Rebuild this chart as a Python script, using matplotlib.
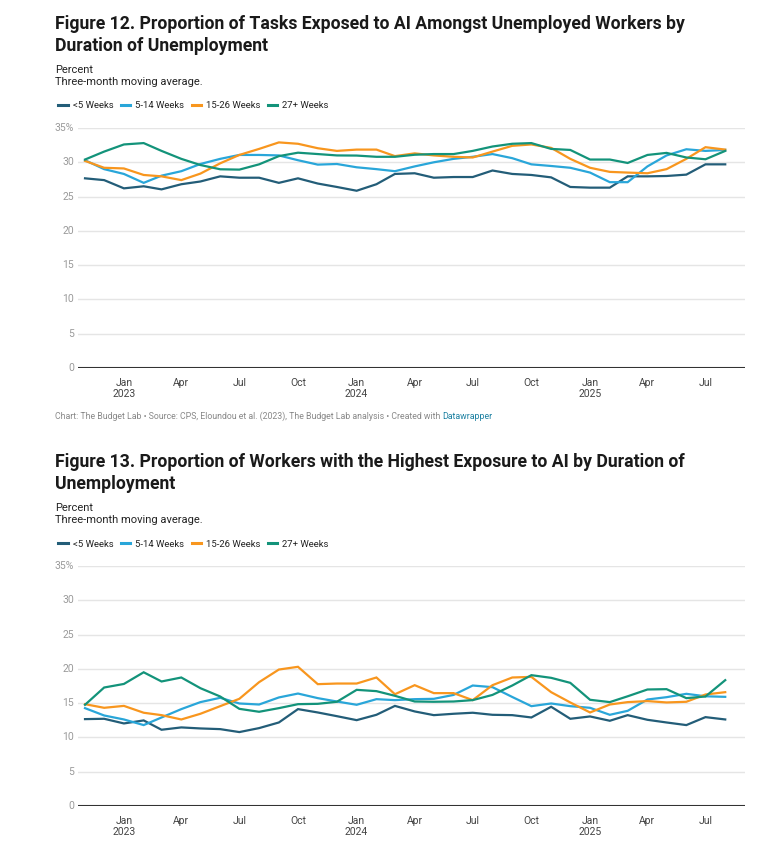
import numpy as np
import pandas as pd
import matplotlib
matplotlib.use("Agg")
import matplotlib.pyplot as plt
import matplotlib.dates as mdates

plt.rcParams['font.family'] = ['Roboto', 'DejaVu Sans']

# Data (monthly, three-month moving average)
months = pd.date_range('2022-11-01', periods=34, freq='MS')
series_names = ['<5 Weeks', '5-14 Weeks', '15-26 Weeks', '27+ Weeks']
colors = ['#235d78', '#29a6d9', '#f8961e', '#13937a']

# Figure 12: proportion of tasks exposed to AI
tasks_lt5 = [27.66, 27.4, 26.2, 26.5, 26.05, 26.8, 27.2, 27.95, 27.75, 27.75, 27.0, 27.66,
             26.9, 26.4, 25.85, 26.8, 28.3, 28.4, 27.75, 27.85, 27.85, 28.8, 28.3, 28.15,
             27.8, 26.4, 26.3, 26.3, 27.95, 27.95, 28.0, 28.2, 29.7, 29.7]
tasks_5_14 = [30.3, 29.0, 28.3, 27.0, 28.05, 28.7, 29.75, 30.5, 31.07, 31.07, 31.0, 30.3,
              29.66, 29.75, 29.27, 29.0, 28.7, 29.4, 30.0, 30.5, 30.8, 31.2, 30.6, 29.7,
              29.46, 29.2, 28.5, 27.1, 27.1, 29.4, 31.0, 31.9, 31.66, 31.8]
tasks_15_26 = [30.2, 29.2, 29.1, 28.15, 27.95, 27.4, 28.35, 29.85, 31.07, 31.95, 32.9, 32.7,
               32.05, 31.66, 31.85, 31.85, 30.9, 31.3, 31.0, 30.8, 30.7, 31.56, 32.4, 32.6,
               32.1, 30.5, 29.2, 28.6, 28.5, 28.4, 29.0, 30.5, 32.2, 31.85]
tasks_27p = [30.4, 31.56, 32.6, 32.8, 31.66, 30.5, 29.6, 28.98, 28.93, 29.7, 30.9, 31.4,
             31.2, 31.0, 30.98, 30.8, 30.8, 31.1, 31.2, 31.2, 31.66, 32.3, 32.7, 32.8,
             31.95, 31.8, 30.4, 30.4, 29.9, 31.07, 31.37, 30.7, 30.44, 31.66]

# Figure 13: proportion of workers with highest exposure
high_lt5 = [12.67, 12.72, 12.04, 12.48, 11.12, 11.46, 11.31, 11.21, 10.78, 11.36, 12.18, 14.13,
            13.64, 13.1, 12.52, 13.3, 14.6, 13.79, 13.25, 13.45, 13.6, 13.3, 13.25, 12.91,
            14.47, 12.72, 13.06, 12.43, 13.25, 12.57, 12.18, 11.8, 12.96, 12.62]
high_5_14 = [14.27, 13.2, 12.62, 11.8, 12.91, 14.13, 15.15, 15.78, 14.95, 14.8, 15.83, 16.4,
             15.73, 15.24, 14.76, 15.58, 15.44, 15.58, 15.63, 16.2, 17.57, 17.33, 15.9, 14.56,
             14.95, 14.56, 14.32, 13.3, 13.88, 15.53, 15.87, 16.36, 16.0, 15.92]
high_15_26 = [14.85, 14.32, 14.6, 13.6, 13.25, 12.62, 13.45, 14.56, 15.63, 18.06, 19.9, 20.3,
              17.77, 17.86, 17.86, 18.74, 16.3, 17.62, 16.46, 16.46, 15.44, 17.62, 18.74, 18.83,
              16.6, 15.1, 13.64, 14.8, 15.15, 15.3, 15.1, 15.2, 16.26, 16.6]
high_27p = [14.76, 17.28, 17.8, 19.5, 18.16, 18.74, 17.18, 15.97, 14.17, 13.74, 14.27, 14.85,
            14.9, 15.2, 16.94, 16.75, 16.07, 15.24, 15.2, 15.24, 15.44, 16.2, 17.57, 19.08,
            18.69, 17.96, 15.49, 15.15, 16.0, 16.99, 17.04, 15.73, 15.97, 18.35]

y_ticks = [0, 5, 10, 15, 20, 25, 30, 35]
y_labels = ['0', '5', '10', '15', '20', '25', '30', '35%']
x_ticks = pd.date_range('2023-01-01', '2025-07-01', freq='3MS')
x_labels = [d.strftime('%b') + ('\n' + d.strftime('%Y') if d.month == 1 else '') for d in x_ticks]

W, H = 770, 846
fig = plt.figure(figsize=(W / 100, H / 100), dpi=100)


def fx(x):
    return x / W


def fy(y):
    return 1 - y / H


def panel(top, title, data):
    # top = pixel y of the first title line baseline
    fig.text(fx(55), fy(top + 23), title, fontsize=12.7, fontweight='bold', color='#1a1a1a',
             va='baseline', linespacing=1.3)
    fig.text(fx(55), fy(top + 45), 'Percent', fontsize=8, color='#222222', va='baseline')
    fig.text(fx(55), fy(top + 57), 'Three-month moving average.', fontsize=8,
             color='#222222', va='baseline')

    ax_top = top + 100
    ax_bot = ax_top + 240
    ax = fig.add_axes([fx(78), fy(ax_bot), fx(745 - 78), (ax_bot - ax_top) / H])
    for vals, name, c in zip(data, series_names, colors):
        ax.plot(months, vals, color=c, lw=1.6, label=name, solid_joinstyle='miter')
    ax.set_ylim(0, 35)
    ax.set_xlim(months[0] - pd.Timedelta(days=11), months[-1] + pd.Timedelta(days=31))
    ax.set_yticks(y_ticks)
    ax.set_yticklabels(y_labels)
    ax.set_xticks(x_ticks)
    ax.set_xticklabels(x_labels)
    ax.grid(axis='y', color='#e5e5e5', lw=1)
    ax.set_axisbelow(True)
    for s in ax.spines.values():
        s.set_visible(False)
    ax.axhline(0, color='#333333', lw=1.5, zorder=3)
    ax.tick_params(axis='y', length=0, pad=3, labelsize=7.5, labelcolor='#9a9a9a')
    ax.tick_params(axis='x', length=0, pad=7, labelsize=7.5, labelcolor='#444444')
    for lab in ax.get_yticklabels():
        lab.set_verticalalignment('center')

    leg = ax.legend(loc='center left', bbox_to_anchor=(fx(50), fy(top + 78)),
                    bbox_transform=fig.transFigure, ncol=4, frameon=False, fontsize=6.8,
                    handlelength=1.0, handletextpad=0.5, columnspacing=0.8)
    for line in leg.get_lines():
        line.set_linewidth(2.2)
    for t in leg.get_texts():
        t.set_color('#222222')
    return ax


panel(28, 'Figure 12. Proportion of Tasks Exposed to AI Amongst Unemployed Workers by\n'
          'Duration of Unemployment', [tasks_lt5, tasks_5_14, tasks_15_26, tasks_27p])
panel(466, 'Figure 13. Proportion of Workers with the Highest Exposure to AI by Duration of\n'
           'Unemployment', [high_lt5, high_5_14, high_15_26, high_27p])

src = fig.text(fx(55), fy(419), 'Chart: The Budget Lab \u2022 Source: CPS, Eloundou et al. (2023), '
               'The Budget Lab analysis \u2022 Created with ', fontsize=6.3, color='#888888',
               va='baseline')
fig.canvas.draw()
bb = src.get_window_extent()
fig.text(bb.x1 / W, fy(419), 'Datawrapper', fontsize=6.3, color='#1d81a2', va='baseline')

fig.savefig('out.png', dpi=100, facecolor='white')
